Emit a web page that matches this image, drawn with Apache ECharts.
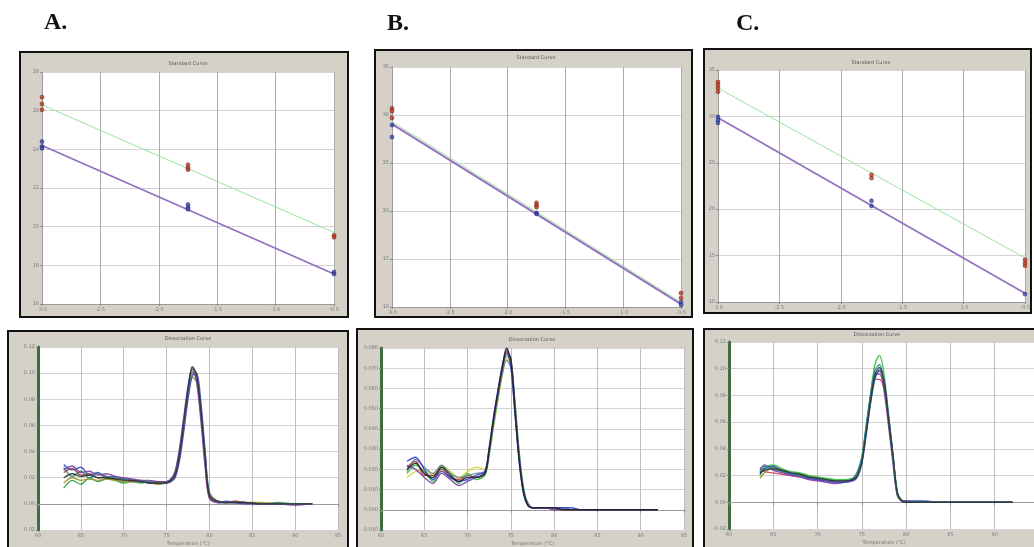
<!DOCTYPE html>
<html><head><meta charset="utf-8">
<script src="https://cdn.jsdelivr.net/npm/echarts@6/dist/echarts.min.js"></script>
<style>html,body{margin:0;padding:0;background:#fff}#c{width:1034px;height:547px}</style>
</head><body><div id="c"></div>
<script>
// ---------- Standard curves (Ct vs. log dilution) ----------
const scX = [0, 0.5, 1];
const aRed = [[26.7, 26.35, 26.05], [23.2, 23.05, 22.95], [19.55, 19.45]];
const aBlue = [[24.4, 24.15, 24.05], [21.15, 21.0, 20.9], [17.65, 17.55]];
const aGreenLine = [26.3, 19.7];
const aPurpleLine = [24.2, 17.55];

const bRed = [[30.7, 30.4, 29.7], [20.85, 20.6, 20.4], [11.45, 10.95]];
const bBlue = [[28.95, 27.7], [19.8, 19.7], [10.5, 10.2]];
const bGreenLine = [29.3, 10.5];
const bPurpleLine = [29.05, 10.3];

const cRed = [[33.7, 33.4, 33.05, 32.65], [23.7, 23.35], [14.55, 14.2, 13.9]];
const cBlue = [[29.95, 29.6, 29.3], [20.9, 20.35], [10.85]];
const cGreenLine = [33.05, 14.75];
const cPurpleLine = [29.85, 10.95];

// ---------- Dissociation (melt) curves, -dF/dT in thousandths ----------
const tA = [63,64,65,66,67,68,69,70,71,72,73,74,75,75.5,76,76.5,77,77.5,78,78.5,79,79.5,80,81,82,83,84,86,88,90,92];
const meltA1 = [24,27,22,23,20,21,19,19,17,18,16,16,17, 18,23,38,60,85,101,95,68,32,5, 1,1,2,1, 0,0,0,0];
const meltA2 = [12,18,15,20,17,19,18,16,17,16,17,15,16, 18,24,40,63,88,103,97,70,34,6, 2,1,1,1, 0,1,0,0];
const meltA3 = [30,26,28,22,24,20,21,19,18,17,16,17,16, 17,20,33,55,80,98,100,78,40,8, 1,2,1,0, 0,0,0,0];
const meltA4 = [26,29,24,25,22,23,21,20,19,18,18,17,17, 19,25,42,66,90,104,94,64,28,4, 1,1,1,1, 0,0,-1,0];
const meltA5 = [20,23,21,22,20,20,19,18,18,17,16,16,16, 18,22,37,62,87,105,99,72,36,6, 2,1,1,1, 0,0,0,0];
const meltA6 = [16,20,18,19,18,19,18,17,17,17,16,15,16, 17,21,34,58,82,97,93,70,38,9, 2,1,2,1, 1,0,0,0];
const meltA7 = [28,21,25,20,23,21,20,19,18,17,17,16,17, 18,23,39,61,86,100,98,74,37,7, 1,1,1,1, 0,0,0,0];

const tB = [63,64,65,66,67,68,69,70,71,72,72.5,73,73.5,74,74.5,75,75.5,76,76.5,77,77.5,78,79,80,81,82,83,84,86,88,90,92];
const meltB1 = [21,24,17,17,20,16,15,17,16,18, 29,44,57,69,78,73,49,24,8,2,1,1, 1,1,0,0,0,0, 0,0,0,0];
const meltB2 = [18,22,19,14,21,18,13,18,15,17, 27,42,55,68,76,74,52,27,10,3,1,1, 1,1,1,0,0,0, 0,0,0,0];
const meltB3 = [24,26,20,15,19,16,14,15,17,19, 31,46,59,71,79,71,46,22,7,2,1,1, 1,1,1,1,0,0, 0,0,0,0];
const meltB4 = [20,23,18,16,21,17,14,16,16,18, 30,45,58,70,80,74,48,23,8,2,1,1, 1,1,0,0,0,0, 0,0,0,0];
const meltB5 = [16,19,20,17,22,19,16,19,21,20, 28,41,54,66,75,72,51,26,9,3,1,1, 1,1,0,0,0,0, 0,0,0,0];
const meltB6 = [22,20,16,13,18,15,12,14,16,18, 29,44,58,70,77,75,50,25,9,2,1,1, 1,0,0,0,0,0, 0,0,0,0];
const meltB7 = [19,25,21,18,22,18,16,17,18,19, 30,43,56,67,74,70,47,24,8,3,1,1, 1,1,1,0,0,0, 0,0,0,0];

const tC = [63.5,64,65,66,67,68,69,70,71,72,73,74,74.5,75,75.5,76,76.5,77,77.5,78,78.5,79,79.5,80,81,82,84,86,88,90,92];
const meltC1 = [20,26,28,25,23,22,20,19,18,17,17,18, 22,33,57,82,104,110,96,67,37,8,1,0, 0,0,0,0,0,0,0];
const meltC2 = [22,24,25,24,22,21,19,18,17,16,16,17, 20,30,53,77,96,101,90,63,35,7,1,0, 0,0,0,0,0,0,0];
const meltC3 = [21,25,27,23,21,20,18,17,16,15,15,16, 19,29,51,75,93,99,91,65,36,7,1,1, 1,1,0,0,0,0,0];
const meltC4 = [24,28,24,22,20,19,17,16,15,14,15,17, 21,32,55,79,96,96,84,58,30,5,1,0, 0,0,0,0,0,0,0];
const meltC5 = [26,23,22,21,20,19,18,17,16,16,16,18, 22,33,56,78,92,92,85,61,33,6,1,1, 0,0,0,0,0,0,0];
const meltC6 = [18,22,26,24,22,21,20,18,17,16,16,17, 21,31,54,76,94,98,88,64,35,7,2,0, 0,0,0,0,0,0,0];
const meltC7 = [23,27,25,23,22,20,19,18,17,16,16,18, 23,34,58,81,99,103,90,63,34,6,1,0, 0,0,0,0,0,0,0];

const stdXTicks = ['-3.0','-2.5','-2.0','-1.5','-1.0','-0.5'];

// ---------- layout ----------
const chart = echarts.init(document.getElementById('c'), null, {renderer: 'canvas', width: 1034, height: 547});

const gridBoxes = [
  {left: 42, top: 72, width: 292, height: 232},
  {left: 392, top: 67, width: 289, height: 240},
  {left: 718, top: 70, width: 307, height: 232},
  {left: 38, top: 347, width: 300, height: 183},
  {left: 381, top: 348, width: 303, height: 182},
  {left: 729, top: 342, width: 310, height: 187}
];
const grid = gridBoxes.map(g => Object.assign({show: true, backgroundColor: '#ffffff', borderWidth: 0, containLabel: false, outerBoundsMode: 'none'}, g));

const tinyLabel = {fontSize: 5, color: '#7a7a7a', fontFamily: 'DejaVu Sans', margin: 3};

function stdX(i) {
  return {
    type: 'value', gridIndex: i, min: 0, max: 1, interval: 0.2,
    axisLine: {show: true, lineStyle: {color: '#9a9a9a', width: 1}},
    axisTick: {show: true, length: 2, lineStyle: {color: '#8a8a8a'}},
    axisLabel: Object.assign({formatter: (v) => stdXTicks[Math.round(v * 5)]}, tinyLabel),
    splitLine: {show: true, lineStyle: {color: '#adadad', width: 1}}
  };
}
function stdY(i, min, max, interval) {
  return {
    type: 'value', gridIndex: i, min, max, interval,
    axisLine: {show: true, lineStyle: {color: '#9a9a9a', width: 1}},
    axisTick: {show: true, length: 2, lineStyle: {color: '#8a8a8a'}},
    axisLabel: Object.assign({}, tinyLabel),
    splitLine: {show: true, lineStyle: {color: '#d4d4d4', width: 1}}
  };
}
function meltX(i) {
  return {
    type: 'value', gridIndex: i, min: 60, max: 95, interval: 5,
    name: 'Temperature (°C)', nameLocation: 'middle', nameGap: 11,
    nameTextStyle: {fontSize: 5, color: '#777', fontFamily: 'DejaVu Sans'},
    axisLine: {show: true, lineStyle: {color: '#9a9a9a', width: 1}},
    axisTick: {show: true, length: 3, lineStyle: {color: '#8a8a8a'}},
    axisLabel: Object.assign({}, tinyLabel),
    splitLine: {show: true, lineStyle: {color: '#bebebe', width: 1}}
  };
}
function meltY(i, min, max, interval, dec) {
  return {
    type: 'value', gridIndex: i, min, max, interval,
    axisLine: {show: true, lineStyle: {color: '#3f6d3f', width: 3}},
    axisTick: {show: true, length: 2, lineStyle: {color: '#8a8a8a'}},
    axisLabel: Object.assign({formatter: (v) => (v / 1000).toFixed(dec)}, tinyLabel),
    splitLine: {show: true, lineStyle: {color: '#d2d2d2', width: 1}}
  };
}

const xAxis = [stdX(0), stdX(1), stdX(2), meltX(3), meltX(4), meltX(5)];
const yAxis = [stdY(0, 16, 28, 2), stdY(1, 10, 35, 5), stdY(2, 10, 35, 5),
               meltY(3, -20, 120, 20, 2), meltY(4, -10, 80, 10, 3), meltY(5, -20, 120, 20, 2)];

const series = [];
function pts(groups) {
  const out = [];
  groups.forEach((g, k) => g.forEach(y => out.push([scX[k], y])));
  return out;
}
function addStd(i, red, blue, gl, pl) {
  series.push({type: 'line', xAxisIndex: i, yAxisIndex: i, showSymbol: false, silent: true,
    lineStyle: {color: '#9be39b', width: 1}, data: [[0, gl[0]], [1, gl[1]]], z: 2});
  series.push({type: 'line', xAxisIndex: i, yAxisIndex: i, showSymbol: false, silent: true,
    lineStyle: {color: '#9470c2', width: 1.8}, data: [[0, pl[0]], [1, pl[1]]], z: 3});
  series.push({type: 'scatter', xAxisIndex: i, yAxisIndex: i, symbol: 'circle', symbolSize: 4, silent: true,
    itemStyle: {color: '#c23a22', borderColor: '#6a1a10', borderWidth: 0.6}, data: pts(red), z: 4});
  series.push({type: 'scatter', xAxisIndex: i, yAxisIndex: i, symbol: 'circle', symbolSize: 4, silent: true,
    itemStyle: {color: '#3a48b0', borderColor: '#1a2060', borderWidth: 0.6}, data: pts(blue), z: 4});
}
addStd(0, aRed, aBlue, aGreenLine, aPurpleLine);
addStd(1, bRed, bBlue, bGreenLine, bPurpleLine);
addStd(2, cRed, cBlue, cGreenLine, cPurpleLine);

function addMelt(i, t, curves, colors) {
  curves.forEach((c, k) => {
    series.push({type: 'line', xAxisIndex: i, yAxisIndex: i, showSymbol: false, silent: true, smooth: 0.3,
      lineStyle: {color: colors[k], width: 1.4, opacity: 0.9},
      data: t.map((x, j) => [x, c[j]]), z: 2});
  });
}
addMelt(3, tA, [meltA2, meltA6, meltA1, meltA3, meltA7, meltA4, meltA5],
  ['#2e9e4a', '#9a9a2a', '#c0392b', '#3a4fc0', '#2a8a8a', '#7b3f9e', '#333333']);
addMelt(4, tB, [meltB5, meltB2, meltB1, meltB7, meltB6, meltB3, meltB4],
  ['#d4d43a', '#2fbf3f', '#c0392b', '#6a8a9a', '#7b3f9e', '#3344cc', '#222222']);
addMelt(5, tC, [meltC5, meltC6, meltC4, meltC1, meltC3, meltC7, meltC2],
  ['#d04060', '#9a9a2a', '#8a3aa0', '#2fbf3f', '#3344cc', '#2a8a8a', '#333333']);

// frames and texts
function frame(x, y, w, h) {
  return {type: 'rect', z: -10, silent: true, shape: {x, y, width: w, height: h},
    style: {fill: '#d5d1c9', stroke: '#111111', lineWidth: 2}};
}
function tiny(x, y, text) {
  return {type: 'text', z: 10, silent: true, x, y,
    style: {text, fontSize: 5, fill: '#555', fontFamily: 'DejaVu Sans', align: 'center', verticalAlign: 'middle'}};
}
function letter(x, y, text) {
  return {type: 'text', z: 10, silent: true, x, y,
    style: {text, fontSize: 24, fontWeight: 'bold', fill: '#111', fontFamily: 'Liberation Serif', align: 'left', verticalAlign: 'top'}};
}
const graphic = [
  frame(20, 52, 328, 265),
  frame(375, 50, 317, 267),
  frame(704, 49, 327, 264),
  frame(8, 331, 340, 222),
  frame(357, 329, 336, 224),
  frame(704, 329, 340, 224),
  tiny(188, 64, 'Standard Curve'),
  tiny(536, 58, 'Standard Curve'),
  tiny(871, 63, 'Standard Curve'),
  tiny(188, 339, 'Dissociation Curve'),
  tiny(532, 340, 'Dissociation Curve'),
  tiny(877, 335, 'Dissociation Curve'),
  letter(44, 11, 'A.'),
  letter(387, 12, 'B.'),
  letter(736, 12, 'C.')
];

chart.setOption({animation: false, backgroundColor: '#ffffff', grid, xAxis, yAxis, series, graphic});
</script>
</body></html>
